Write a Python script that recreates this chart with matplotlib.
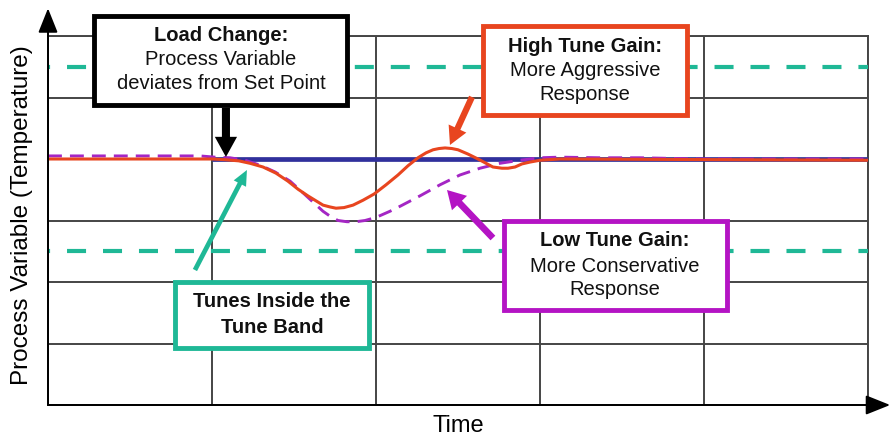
import matplotlib
matplotlib.use("Agg")
import matplotlib.pyplot as plt
from matplotlib.patches import Rectangle

plt.rcParams['font.family'] = ['Liberation Sans', 'DejaVu Sans']
plt.rcParams['lines.scale_dashes'] = False

# values (x: time grid units, y: grid units)
set_point = 4.0
band_upper = 5.5
band_lower = 2.5

time_high = [0, 1.0, 1.073, 1.163, 1.232, 1.311, 1.39, 1.463, 1.524, 1.585, 1.634,
             1.677, 1.72, 1.756, 1.805, 1.86, 1.921, 1.988, 2.061, 2.134, 2.195,
             2.256, 2.305, 2.348, 2.384, 2.421, 2.463, 2.5, 2.561, 2.622, 2.671,
             2.713, 2.768, 2.805, 2.848, 2.89, 2.939, 3.0, 3.122, 5.0]
pv_high = [4.0, 4.0, 3.99, 3.97, 3.93, 3.87, 3.77, 3.64, 3.51, 3.4, 3.32,
           3.25, 3.22, 3.2, 3.21, 3.25, 3.33, 3.43, 3.58, 3.74, 3.89,
           4.02, 4.1, 4.15, 4.17, 4.18, 4.17, 4.15, 4.08, 4.0, 3.93,
           3.87, 3.85, 3.85, 3.87, 3.92, 3.95, 3.98, 4.0, 3.98]

time_low = [0, 0.927, 1.018, 1.11, 1.201, 1.293, 1.384, 1.476, 1.555, 1.628, 1.677,
            1.72, 1.768, 1.823, 1.878, 1.933, 2.0, 2.085, 2.146, 2.268, 2.39,
            2.512, 2.634, 2.756, 2.878, 3.0, 3.122, 3.366, 3.61, 3.976, 5.0]
pv_low = [4.05, 4.05, 4.03, 4.02, 3.98, 3.9, 3.79, 3.64, 3.45, 3.27, 3.15,
          3.07, 3.0, 2.98, 2.98, 3.0, 3.05, 3.15, 3.23, 3.4, 3.58,
          3.74, 3.85, 3.93, 3.98, 4.02, 4.03, 4.02, 4.02, 4.0, 4.0]

teal = '#1fb896'
red = '#e8451f'
magenta = '#b414c4'
purple = '#a426c4'
navy = '#30309c'
grid_col = '#454545'

fig = plt.figure(figsize=(8.93, 4.38), dpi=100)
ax = fig.add_axes([48 / 893, 33 / 438, 820 / 893, 369 / 438])
ax.set_xlim(0, 5)
ax.set_ylim(0, 6)
ax.set_xticks(range(6))
ax.set_yticks(range(7))
ax.tick_params(length=0, labelbottom=False, labelleft=False)
ax.grid(True, color=grid_col, lw=1.4)
for s in ax.spines.values():
    s.set_color(grid_col)
    s.set_linewidth(1.4)

# tune band
band_style = (12.2, (13.7, 12.2))
for level in (band_upper, band_lower):
    ax.plot([0, 5], [level, level], color=teal, lw=3, ls=band_style,
            dash_capstyle='butt', zorder=3)

# set point and responses
ax.plot([1.0, 5.0], [set_point, set_point], color=navy, lw=3.4, zorder=4,
        solid_capstyle='butt')
ax.plot(time_low, pv_low, color=purple, lw=2.1, ls=(0, (10, 5.8)), zorder=5)
ax.plot(time_high, pv_high, color=red, lw=2.2, zorder=6, solid_joinstyle='round')

# axis arrows
axis_arrow = dict(arrowstyle='-|>,head_length=0.75,head_width=0.3', color='black',
                  lw=1.4, mutation_scale=20, shrinkA=0, shrinkB=0)
ax.annotate('', xy=(0, 6.45), xytext=(0, 0), arrowprops=axis_arrow,
            annotation_clip=False, zorder=7)
ax.annotate('', xy=(5.135, 0), xytext=(0, 0), arrowprops=axis_arrow,
            annotation_clip=False, zorder=7)

ax.text(-0.16, 3.08, 'Process Variable (Temperature)', rotation=90, fontsize=17.5,
        ha='center', va='center')
ax.text(2.5, -0.34, 'Time', fontsize=17, ha='center', va='center')

# callout boxes
boxes = [
    (0.2835, 4.870, 1.826, 6.333, 'black',
     ['Load Change:', 'Process Variable', 'deviates from Set Point'],
     1.055, [6.016, 5.61, 5.22]),
    (2.652, 4.715, 3.896, 6.163, red,
     ['High Tune Gain:', 'More Aggressive', 'Response'],
     3.274, [5.837, 5.431, 5.041]),
    (2.780, 1.545, 4.140, 2.992, magenta,
     ['Low Tune Gain:', 'More Conservative', 'Response'],
     3.457, [2.667, 2.26, 1.87]),
    (0.774, 0.927, 1.957, 2.0, teal,
     ['Tunes Inside the', 'Tune Band'],
     1.366, [1.675, 1.268]),
]
for x0, y0, x1, y1, col, lines, tx, tys in boxes:
    ax.add_patch(Rectangle((x0, y0), x1 - x0, y1 - y0, facecolor='white',
                           edgecolor=col, lw=3.5, zorder=8, clip_on=False))
    for i, (line, ty) in enumerate(zip(lines, tys)):
        bold = i == 0 or col == teal
        ax.text(tx, ty, line, ha='center', va='center', fontsize=14.5,
                fontweight='bold' if bold else 'normal', color='#111111', zorder=9)

# pointer arrows
pointers = [
    ((1.085, 4.83), (1.085, 4.033), 'black', 5.8, 16, 14.5),
    ((2.585, 5.008), (2.451, 4.228), red, 4.5, 14, 13),
    ((2.713, 2.715), (2.433, 3.496), magenta, 4.8, 15, 13),
    ((0.896, 2.195), (1.213, 3.821), teal, 3.4, 10, 11),
]
for tail, tip, col, w, hw, hl in pointers:
    ax.annotate('', xy=tip, xytext=tail,
                arrowprops=dict(facecolor=col, edgecolor=col, width=w,
                                headwidth=hw, headlength=hl, shrink=0, lw=0),
                annotation_clip=False, zorder=10)

fig.savefig('out.png', dpi=100)
